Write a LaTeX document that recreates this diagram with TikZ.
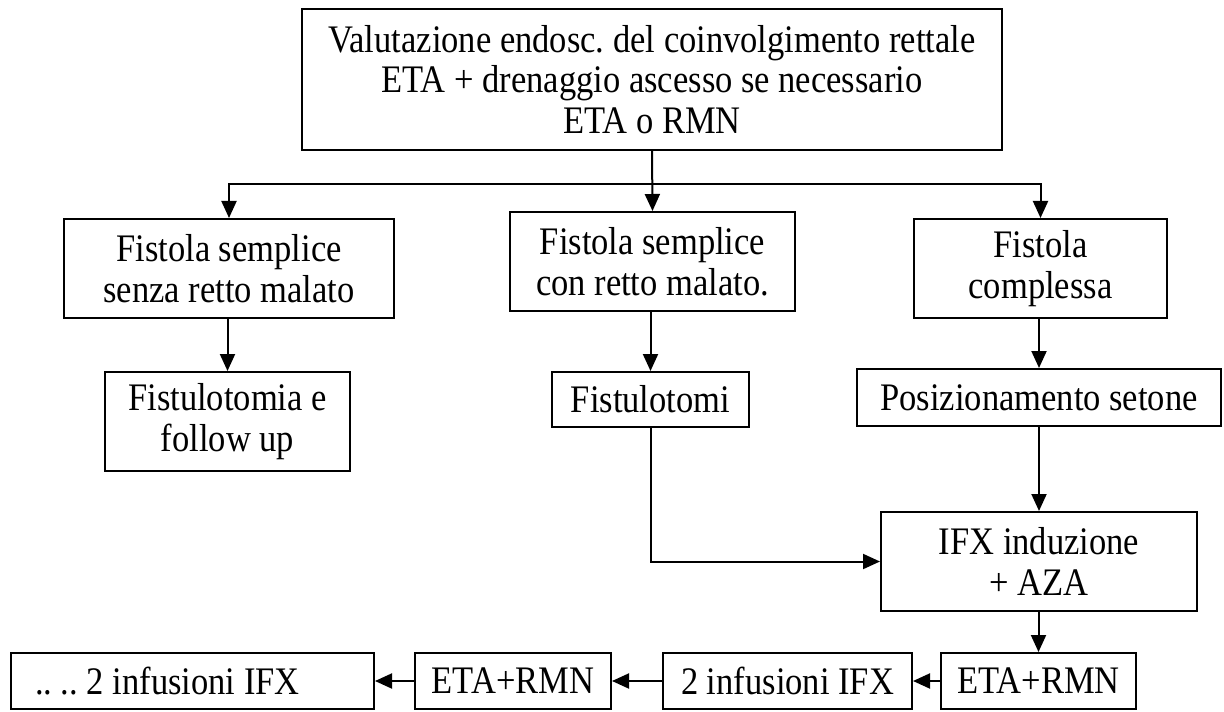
\documentclass[tikz,border=0pt]{standalone}
\usepackage{fontspec}
\setmainfont{Liberation Serif}
\usetikzlibrary{arrows.meta}
\newfontfamily\boxfamily[FakeStretch=0.885]{Liberation Serif}
\newcommand{\boxfont}{\boxfamily\fontsize{19.5}{20.3}\selectfont\frenchspacing}
\begin{document}
\begin{tikzpicture}[x=0.5pt,y=-0.5pt,
  box/.style={draw, line width=1pt, inner sep=0pt, align=center, font=\boxfont},
  arr/.style={line width=1pt, -{Triangle[length=8.5pt,width=7.5pt]}}]
\useasboundingbox (0,0) rectangle (1224,711);
\node[box, minimum width=350pt, minimum height=70.5pt] (top) at (652,79.5)
  {Valutazione endosc. del coinvolgimento rettale\\ETA + drenaggio ascesso se necessario\\ETA o RMN};
\node[box, minimum width=165pt, minimum height=49.5pt] (b1) at (229,268.5)
  {Fistola semplice\\senza retto malato};
\node[box, minimum width=142.5pt, minimum height=49.5pt] (b2) at (652.5,261.5)
  {Fistola semplice\\con retto malato.};
\node[box, minimum width=126.5pt, minimum height=49.5pt] (b3) at (1040.5,268.5)
  {Fistola\\complessa};
\node[box, minimum width=122.5pt, minimum height=49.5pt] (b4) at (227.5,421.5)
  {Fistulotomia e\\follow up};
\node[box, minimum width=98.5pt, minimum height=27.5pt] (b5) at (650.5,399.5)
  {Fistulotomi};
\node[box, minimum width=182pt, minimum height=28.5pt] (b6) at (1039,397.5)
  {Posizionamento setone};
\node[box, minimum width=158pt, minimum height=49.5pt] (b7) at (1039,561.5)
  {IFX induzione\\+ AZA};
\node[box, minimum width=97.5pt, minimum height=28pt] (b8) at (1038.5,681)
  {ETA+RMN};
\node[box, minimum width=124.5pt, minimum height=28pt] (b9) at (787.5,681)
  {2 infusioni IFX};
\node[box, minimum width=98pt, minimum height=28pt] (b10) at (513,681)
  {ETA+RMN};
\node[box, inner xsep=12pt, minimum height=28pt] (b11) at (192.5,681)
  {\makebox[157.5pt][l]{.. .. 2 infusioni IFX}};
\coordinate (split) at (652,184);
\draw[arr] (top.south) -- (b2.north);
\draw[arr] (split) -| (b1.north);
\draw[arr] (split) -| (b3.north);
\draw[arr] (b1.south -| b4.north) -- (b4.north);
\draw[arr] (b2.south -| b5.north) -- (b5.north);
\draw[arr] (b3.south -| b6.north) -- (b6.north);
\draw[arr] (b5.south) |- (b7.west);
\draw[arr] (b6.south -| b7.north) -- (b7.north);
\draw[arr] (b7.south -| b8.north) -- (b8.north);
\draw[arr] (b8.west) -- (b9.east);
\draw[arr] (b9.west) -- (b10.east);
\draw[arr] (b10.west) -- (b11.east);
\end{tikzpicture}
\end{document}
